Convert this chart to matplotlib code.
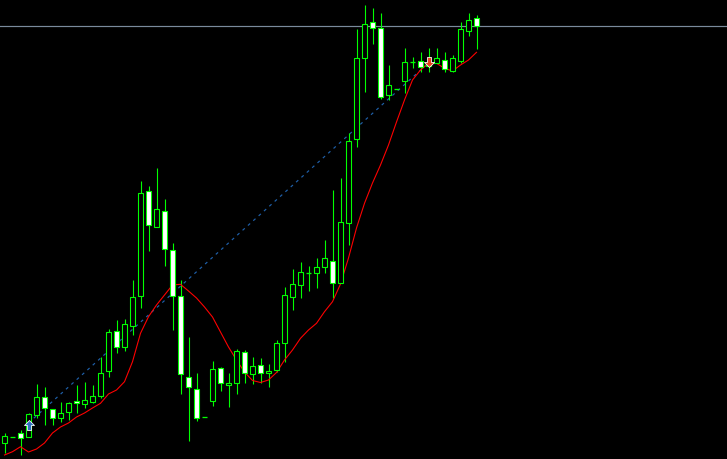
import matplotlib
matplotlib.use("Agg")
import matplotlib.pyplot as plt
from matplotlib.patches import Rectangle
from matplotlib.path import Path

# OHLC candles (arbitrary price units)
opens = [16.3, 22.3, 26.3, 22.3, 44, 62, 49.7, 41, 47, 58, 55, 57.3, 63, 87.7, 127.7, 112.3,
         132.7, 163.3, 267.7, 232.3, 247.7, 209, 163, 82.3, 69.7, 41.7, 57.7, 90.7, 74, 75.7,
         106.7, 85, 94.3, 85.7, 89, 116.3, 162.3, 173.7, 185.7, 186.3, 192.3, 198.3, 175.7,
         235.7, 319.7, 400.7, 436.7, 430.7, 363.7, 369.7, 378, 397, 397.7, 393, 396.3, 399,
         388, 398.3, 428.3, 440.7]
highs = [26.3, 22.3, 29, 45.7, 75, 72, 49.7, 57.3, 57.3, 74, 77.3, 74, 102.3, 129.7, 139, 140,
         179, 278, 273, 291, 259.7, 215.7, 179, 122.3, 85.7, 41.7, 98.3, 91.7, 85.7, 109.7,
         109, 101.7, 100.7, 94.7, 119, 172.3, 189.7, 196.7, 193, 200.7, 219, 269, 280.7,
         326.3, 430, 454, 450.7, 445.7, 394, 369.7, 410.7, 401.7, 407.3, 410.7, 410.7, 407.3,
         404, 437.3, 445.7, 444]
lows = [5.7, 22.3, 4, 22, 41, 34, 34, 37.3, 39, 46, 51, 56, 61.3, 82.3, 106.3, 108.3,
        124, 151.3, 208.3, 232.3, 193, 129, 65, 18.3, 38.3, 41.7, 53, 68.3, 51.7, 64.7,
        75.7, 75, 75.7, 72.3, 87.3, 97.3, 149, 161.3, 168.3, 171.3, 186.3, 161.3, 175.7,
        214, 312.3, 367.3, 414.7, 359.7, 359, 369.7, 365.7, 390.7, 387.3, 387.3, 395.7, 387.3,
        387.3, 395.7, 423.3, 409.7]
closes = [23, 22.3, 21.3, 45, 62, 51, 40.7, 46, 56, 56, 59, 63, 85.7, 126.7, 111.7, 134.7,
          162, 265.7, 233.7, 249.7, 210.3, 163.3, 84.7, 71.7, 40.7, 41.7, 89.7, 75.7, 75.7, 108,
          85.7, 93.3, 85.7, 87.7, 115.7, 164, 175, 186.7, 185.7, 191.7, 200.7, 175.7, 236.7,
          318, 400.7, 435, 430.7, 361.7, 373.7, 369.7, 396.7, 397, 391.7, 397, 400.7, 389.7,
          400.7, 429.7, 439, 433]

# red moving-average style line
ma_values = [4, 7.3, 12.3, 7, 10, 16, 26, 32, 36, 42, 46, 51, 55.7, 65, 69, 77.3, 97.3, 125.7,
             142.3, 154, 164, 174, 174.7, 168, 161, 152, 142, 127, 112, 99, 87, 78.5, 76.5,
             79, 86.5, 99, 109, 120.7, 129, 135.7, 147.3, 157.3, 175, 201, 231, 255.7, 276,
             294, 314, 337, 359, 379, 389, 395.7, 395.7, 390.7, 388, 394, 399, 406.7]

# horizontal price level
level_price = 433

# zigzag swing points (bar index, price)
swing_idx = [3, 53]
swing_price = [36, 396]

# signal arrows
buy_idx, buy_price = 3, 34
sell_idx, sell_price = 53, 397

W, H = 727, 459
DPI = 100
fig = plt.figure(figsize=(W / DPI, H / DPI), dpi=DPI, facecolor="black")
ax = fig.add_axes([0, 0, 1, 1])
ax.set_facecolor("black")
ax.set_axis_off()

bar_px = 8.0
xmin = -4.5 / bar_px
ax.set_xlim(xmin, xmin + W / bar_px)
ax.set_ylim(0, H)

px = 72.0 / DPI  # one pixel in points
green = "#00ff00"

ax.axhline(level_price, color="#7a8a9c", lw=1.2 * px, zorder=1)

ax.plot(swing_idx, swing_price, color="#1f5fa8", lw=1.2 * px,
        linestyle=(0, (2.5, 3.5)), zorder=2)

ax.plot(range(len(ma_values)), ma_values, color="#ff0000", lw=1.1 * px, zorder=4)

body_w = 4.2 / bar_px
for i, (o, h, l, c) in enumerate(zip(opens, highs, lows, closes)):
    ax.plot([i, i], [l, h], color=green, lw=1.1 * px, zorder=3, solid_capstyle="butt")
    lo, hi = min(o, c), max(o, c)
    if hi - lo < 0.5:
        ax.plot([i - body_w / 2 - 0.06, i + body_w / 2 + 0.06], [o, o], color=green,
                lw=1.3 * px, zorder=5, solid_capstyle="butt")
    else:
        face = "black" if c > o else "white"
        ax.add_patch(Rectangle((i - body_w / 2, lo), body_w, hi - lo, facecolor=face,
                               edgecolor=green, lw=1.1 * px, zorder=5))

up_arrow = Path([(0, 1), (1, 0), (0.4, 0), (0.4, -1), (-0.4, -1), (-0.4, 0), (-1, 0), (0, 1)],
                [Path.MOVETO] + [Path.LINETO] * 6 + [Path.CLOSEPOLY])
down_arrow = Path([(0, -1), (1, 0), (0.4, 0), (0.4, 1), (-0.4, 1), (-0.4, 0), (-1, 0), (0, -1)],
                  [Path.MOVETO] + [Path.LINETO] * 6 + [Path.CLOSEPOLY])
ax.plot([buy_idx], [buy_price], marker=up_arrow, markersize=10 * px, color="#2f6fc0",
        markeredgecolor="white", markeredgewidth=0.8 * px, zorder=6)
ax.plot([sell_idx], [sell_price], marker=down_arrow, markersize=10 * px, color="#e8401c",
        markeredgecolor="white", markeredgewidth=0.8 * px, zorder=6)

fig.savefig("out.png", dpi=DPI, facecolor="black")
